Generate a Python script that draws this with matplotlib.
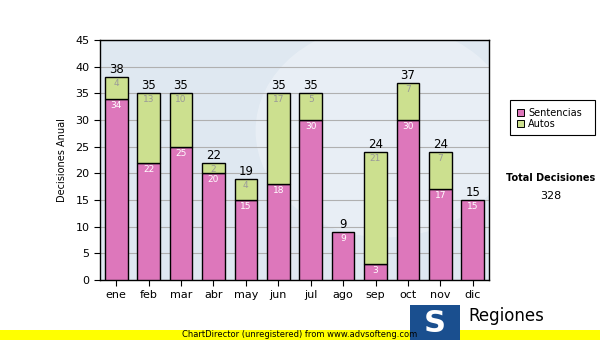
import matplotlib
matplotlib.use("Agg")
import matplotlib.pyplot as plt
import numpy as np
from matplotlib.patches import Rectangle, Ellipse

months = ["ene", "feb", "mar", "abr", "may", "jun", "jul", "ago", "sep", "oct", "nov", "dic"]
sentencias = [34, 22, 25, 20, 15, 18, 30, 9, 3, 30, 17, 15]
autos = [4, 13, 10, 2, 4, 17, 5, 0, 21, 7, 7, 0]
yticks = [0, 5, 10, 15, 20, 25, 30, 35, 40, 45]

pink = "#dd77bb"
green = "#cce08f"

fig = plt.figure(figsize=(6, 3.4), dpi=100)
ax = fig.add_axes([100/600, 60/340, 389/600, 240/340])
ax.set_facecolor("#dfe8f1")

x = np.arange(len(months))
w = 0.7
ax.bar(x, sentencias, w, color=pink, edgecolor="black", linewidth=1, zorder=3)
totals = [s + a for s, a in zip(sentencias, autos)]
for i, (s, a) in enumerate(zip(sentencias, autos)):
    if a > 0:
        ax.bar(x[i], a, w, bottom=s, color=green, edgecolor="black", linewidth=1, zorder=3)
        ax.text(x[i], s + a - 0.4, str(a), ha="center", va="top", fontsize=6.5, color="#999999", zorder=4)
    ax.text(x[i], s - 0.4, str(s), ha="center", va="top", fontsize=6.5, color="white", zorder=4)
    ax.text(x[i], s + a + 0.2, str(s + a), ha="center", va="bottom", fontsize=8.5, color="black", zorder=4)

ax.set_xlim(-0.5, len(months) - 0.5)
ax.set_ylim(0, 45)
ax.set_yticks(yticks)
ax.set_xticks(x)
ax.set_xticklabels(months, fontsize=8)
ax.tick_params(axis="y", labelsize=8, length=4)
ax.tick_params(axis="x", length=4)
ax.yaxis.grid(True, color="#b0b0b0", linewidth=0.8, zorder=1)
ax.set_axisbelow(True)
for sp in ax.spines.values():
    sp.set_linewidth(1)
ax.set_ylabel("Decisiones Anual", fontsize=7, labelpad=6)

# faint watermark
wm = Ellipse((8.3, 28), 8.0, 40, facecolor="white", alpha=0.3, edgecolor="none", zorder=0.5)
ax.add_patch(wm)

# legend and side texts
leg_ax = fig.add_axes([0, 0, 1, 1], facecolor="none")
leg_ax.set_xlim(0, 600)
leg_ax.set_ylim(340, 0)
leg_ax.axis("off")
leg_ax.add_patch(Rectangle((510, 100), 85, 35, facecolor="white", edgecolor="black", linewidth=0.8))
leg_ax.add_patch(Rectangle((517, 109), 7, 7, facecolor=pink, edgecolor="black", linewidth=0.7))
leg_ax.text(528, 113, "Sentencias", fontsize=7, va="center")
leg_ax.add_patch(Rectangle((517, 120), 7, 7, facecolor=green, edgecolor="black", linewidth=0.7))
leg_ax.text(528, 124, "Autos", fontsize=7, va="center")
leg_ax.text(551, 178, "Total Decisiones", fontsize=7, fontweight="bold", ha="center", va="center")
leg_ax.text(551, 196, str(sum(totals)), fontsize=8, ha="center", va="center")

# bottom band and logo
leg_ax.add_patch(Rectangle((0, 330), 600, 10, facecolor="#ffff00", edgecolor="none"))
leg_ax.text(300, 334.5, "ChartDirector (unregistered) from www.advsofteng.com", fontsize=6, ha="center", va="center")
leg_ax.add_patch(Rectangle((410, 305), 50, 35, facecolor="#1a4f8f", edgecolor="none"))
leg_ax.text(435, 323, "S", fontsize=22, fontweight="bold", color="white", ha="center", va="center")
leg_ax.text(468, 316, "Regiones", fontsize=12, ha="left", va="center")

fig.savefig("out.png", dpi=100)
